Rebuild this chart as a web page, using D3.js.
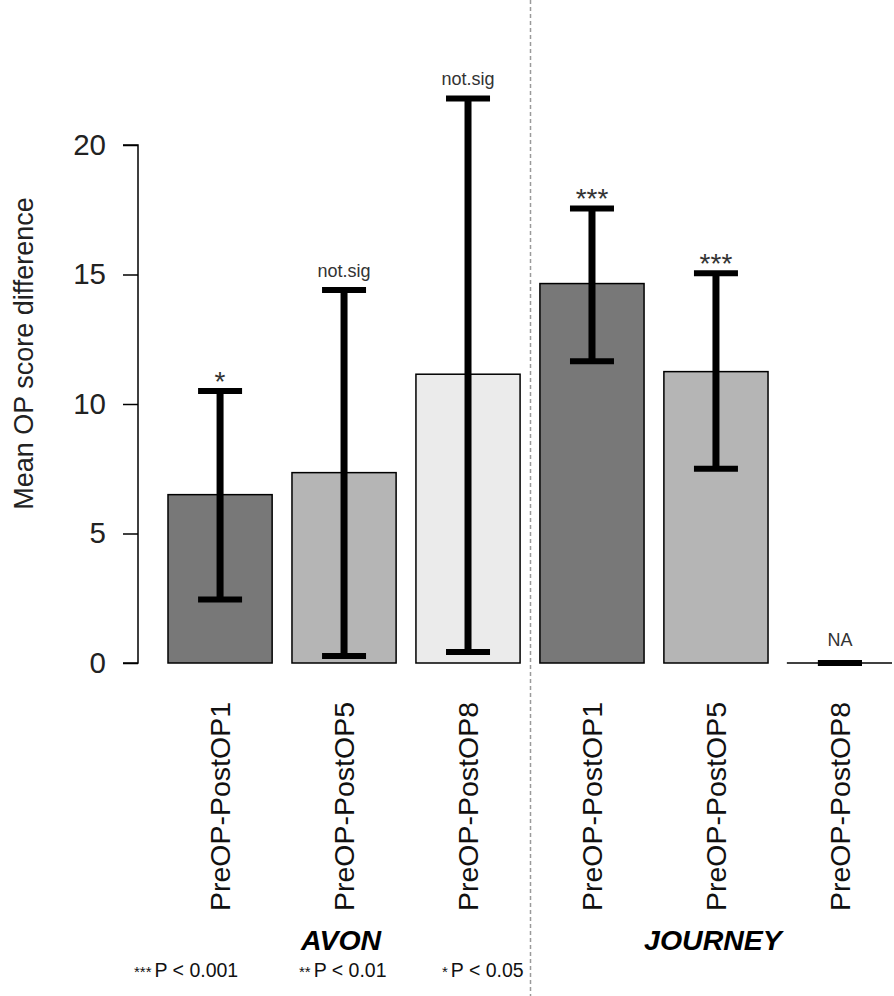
<!DOCTYPE html>
<html>
<head>
<meta charset="utf-8">
<script src="https://cdn.jsdelivr.net/npm/d3@7"></script>
<style>
  html, body { margin: 0; padding: 0; background: #fff; }
  svg { display: block; font-family: "Liberation Sans", Arial, sans-serif; }
</style>
</head>
<body>
<svg id="chart" width="894" height="996"></svg>
<script>
// ---- data ----
const categories = ["PreOP-PostOP1", "PreOP-PostOP5", "PreOP-PostOP8", "PreOP-PostOP1", "PreOP-PostOP5", "PreOP-PostOP8"];
const groups = ["AVON", "AVON", "AVON", "JOURNEY", "JOURNEY", "JOURNEY"];
const groupNames = ["AVON", "JOURNEY"];
const means = [6.5, 7.35, 11.15, 14.65, 11.25, 0];
const lowers = [2.45, 0.27, 0.42, 11.65, 7.5, 0];
const uppers = [10.5, 14.4, 21.8, 17.55, 15.05, 0];
const sigLabels = ["*", "not.sig", "not.sig", "***", "***", "NA"];
const yTicks = [0, 5, 10, 15, 20];
const footnotes = [["***", "P < 0.001"], ["**", "P < 0.01"], ["*", "P < 0.05"]];

// ---- styles ----
const fills = ["#787878", "#b5b5b5", "#ebebeb", "#787878", "#b5b5b5", "#ebebeb"];

const svg = d3.select("#chart");

const x = d3.scaleBand()
  .domain(d3.range(categories.length))
  .range([168, 892])
  .paddingInner(0.16)
  .paddingOuter(0);

const y = d3.scaleLinear().domain([0, 20]).range([663, 145]);

// separator dashed line
svg.append("line")
  .attr("x1", 530.5).attr("x2", 530.5)
  .attr("y1", 0).attr("y2", 996)
  .attr("stroke", "#9a9a9a").attr("stroke-width", 1.5)
  .attr("stroke-dasharray", "4,3");

// y axis
const yAxis = d3.axisLeft(y).tickValues(yTicks).tickSize(15).tickPadding(17).tickFormat(d3.format("d"));
const gy = svg.append("g").attr("transform", "translate(138,0)").call(yAxis);
gy.select(".domain").attr("stroke", "#000").attr("stroke-width", 1.5).attr("d", `M-15,${y(20)}H0V${y(0)}H-15`);
gy.selectAll(".tick line").attr("stroke", "#000").attr("stroke-width", 1.5);
gy.selectAll(".tick text").attr("font-size", 29.5).attr("fill", "#222")
  .attr("font-family", "'Liberation Sans', Arial, sans-serif");

// y title
svg.append("text")
  .attr("transform", `translate(33,${(197 + 510) / 2}) rotate(-90)`)
  .attr("text-anchor", "middle")
  .attr("font-size", 27)
  .attr("fill", "#222")
  .text("Mean OP score difference");

// bars
const idx = d3.range(categories.length);
svg.append("g").selectAll("rect")
  .data(idx.filter(i => means[i] > 0))
  .join("rect")
  .attr("x", i => x(i))
  .attr("width", x.bandwidth())
  .attr("y", i => y(means[i]))
  .attr("height", i => y(0) - y(means[i]))
  .attr("fill", i => fills[i])
  .attr("stroke", "#000")
  .attr("stroke-width", 1.5);

// zero-height bars are drawn as their outline (a flat line)
svg.append("g").selectAll("line")
  .data(idx.filter(i => means[i] === 0))
  .join("line")
  .attr("x1", i => x(i) - 1)
  .attr("x2", i => x(i) + x.bandwidth())
  .attr("y1", y(0)).attr("y2", y(0))
  .attr("stroke", "#000")
  .attr("stroke-width", 1.5);

// error bars
const capHalf = 22;
const eb = svg.append("g");
idx.forEach(i => {
  const cx = x(i) + x.bandwidth() / 2;
  if (uppers[i] !== lowers[i]) {
    eb.append("line")
      .attr("x1", cx).attr("x2", cx)
      .attr("y1", y(uppers[i])).attr("y2", y(lowers[i]))
      .attr("stroke", "#000").attr("stroke-width", 7);
  }
  [uppers[i], lowers[i]].forEach(v => {
    eb.append("line")
      .attr("x1", cx - capHalf).attr("x2", cx + capHalf)
      .attr("y1", y(v)).attr("y2", y(v))
      .attr("stroke", "#000").attr("stroke-width", 6);
  });
});

// significance labels
svg.append("g").selectAll("text")
  .data(idx)
  .join("text")
  .attr("x", i => x(i) + x.bandwidth() / 2)
  .attr("y", i => y(uppers[i]) - (sigLabels[i].startsWith("*") ? 0 : (sigLabels[i] === "NA" ? 17 : 13)))
  .attr("text-anchor", "middle")
  .attr("font-size", i => sigLabels[i].startsWith("*") ? 28 : 18)
  .attr("fill", "#333")
  .text(i => sigLabels[i]);

// category labels
svg.append("g").selectAll("text")
  .data(idx)
  .join("text")
  .attr("transform", i => `translate(${x(i) + x.bandwidth() / 2 + 10},702) rotate(-90)`)
  .attr("text-anchor", "end")
  .attr("font-size", 28.5)
  .attr("fill", "#111")
  .text(i => categories[i]);

// group labels
groupNames.forEach(g => {
  const members = idx.filter(i => groups[i] === g);
  const cx = d3.mean(members, i => x(i) + x.bandwidth() / 2);
  svg.append("text")
    .attr("x", cx - 3).attr("y", 950)
    .attr("text-anchor", "middle")
    .attr("font-size", 28.5)
    .attr("font-weight", "bold")
    .attr("font-style", "italic")
    .attr("fill", "#000")
    .text(g);
});

// footnotes
const footX = [134, 299, 442];
footnotes.forEach((f, k) => {
  const t = svg.append("text").attr("x", footX[k]).attr("y", 977).attr("fill", "#111");
  t.append("tspan").attr("font-size", 15).text(f[0]);
  t.append("tspan").attr("font-size", 19.5).attr("dx", 3).text(f[1]);
});
</script>
</body>
</html>
